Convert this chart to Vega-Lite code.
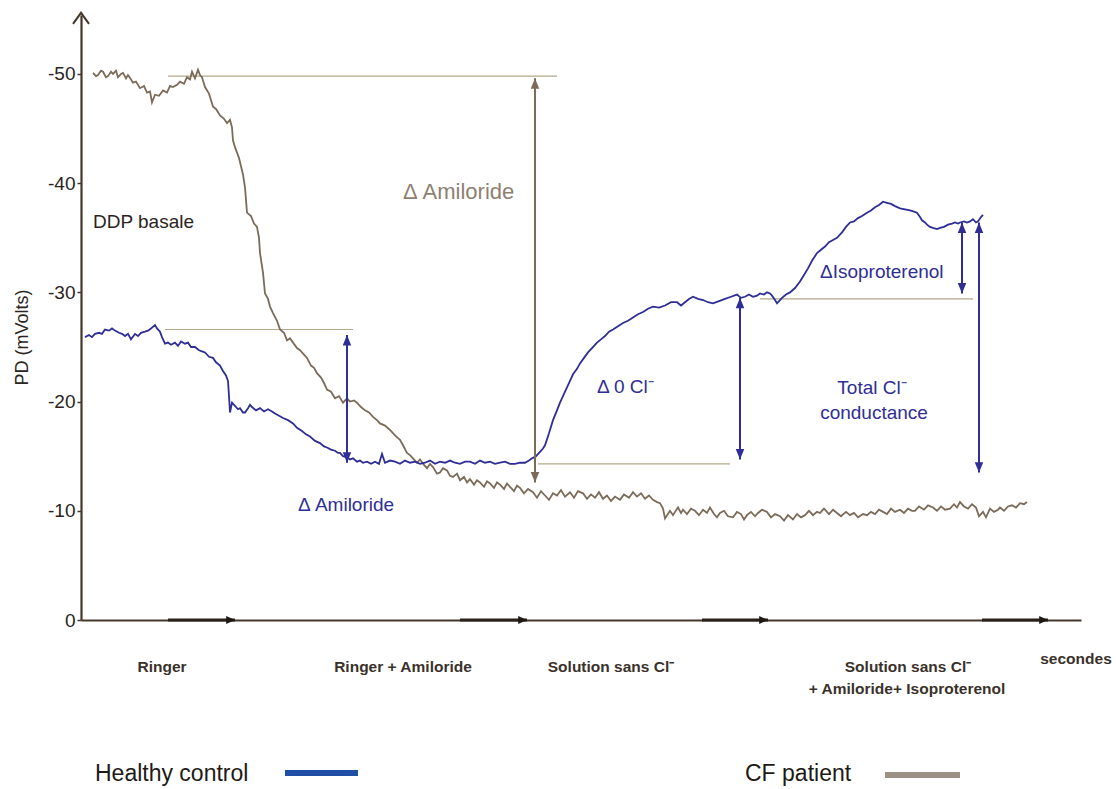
{
  "$schema": "https://vega.github.io/schema/vega-lite/v6.json",
  "width": 1000,
  "height": 605,
  "autosize": {"type": "none"},
  "padding": {"left": 81, "top": 15, "right": 35, "bottom": 169},
  "background": "white",
  "config": {"view": {"stroke": null}, "font": "Liberation Sans", "text": {"font": "Liberation Sans"}},
  "datasets": {
    "traces": [
      {"series":"CF patient","t":12,"v":-50.1},{"series":"CF patient","t":15,"v":-49.8},{"series":"CF patient","t":17,"v":-49.9},{"series":"CF patient","t":20,"v":-50.3},{"series":"CF patient","t":22,"v":-50.2},{"series":"CF patient","t":25,"v":-49.7},{"series":"CF patient","t":27,"v":-49.8},{"series":"CF patient","t":30,"v":-50.2},{"series":"CF patient","t":32,"v":-50.0},{"series":"CF patient","t":35,"v":-50.3},{"series":"CF patient","t":37,"v":-49.7},{"series":"CF patient","t":40,"v":-50.0},{"series":"CF patient","t":42,"v":-50.1},{"series":"CF patient","t":45,"v":-49.6},{"series":"CF patient","t":47,"v":-49.9},{"series":"CF patient","t":50,"v":-49.5},{"series":"CF patient","t":52,"v":-49.2},{"series":"CF patient","t":55,"v":-49.3},{"series":"CF patient","t":59,"v":-48.7},{"series":"CF patient","t":63,"v":-48.9},{"series":"CF patient","t":66,"v":-48.3},{"series":"CF patient","t":69,"v":-48.4},{"series":"CF patient","t":71,"v":-47.4},{"series":"CF patient","t":74,"v":-48.1},{"series":"CF patient","t":78,"v":-48.0},{"series":"CF patient","t":82,"v":-48.5},{"series":"CF patient","t":86,"v":-48.3},{"series":"CF patient","t":89,"v":-48.9},{"series":"CF patient","t":92,"v":-48.8},{"series":"CF patient","t":96,"v":-49.0},{"series":"CF patient","t":99,"v":-49.3},{"series":"CF patient","t":103,"v":-49.1},{"series":"CF patient","t":106,"v":-49.7},{"series":"CF patient","t":109,"v":-49.5},{"series":"CF patient","t":111,"v":-50.2},{"series":"CF patient","t":114,"v":-49.6},{"series":"CF patient","t":117,"v":-50.4},{"series":"CF patient","t":119,"v":-49.9},{"series":"CF patient","t":121,"v":-49.7},{"series":"CF patient","t":124,"v":-48.8},{"series":"CF patient","t":128,"v":-48.2},{"series":"CF patient","t":132,"v":-47.0},{"series":"CF patient","t":135,"v":-46.8},{"series":"CF patient","t":139,"v":-46.2},{"series":"CF patient","t":143,"v":-45.9},{"series":"CF patient","t":146,"v":-45.5},{"series":"CF patient","t":149,"v":-45.8},{"series":"CF patient","t":151,"v":-45.1},{"series":"CF patient","t":152,"v":-43.9},{"series":"CF patient","t":154,"v":-43.3},{"series":"CF patient","t":158,"v":-42.3},{"series":"CF patient","t":162,"v":-40.8},{"series":"CF patient","t":164,"v":-39.6},{"series":"CF patient","t":166,"v":-37.3},{"series":"CF patient","t":170,"v":-37.0},{"series":"CF patient","t":173,"v":-36.3},{"series":"CF patient","t":176,"v":-36.0},{"series":"CF patient","t":178,"v":-35.0},{"series":"CF patient","t":179,"v":-33.6},{"series":"CF patient","t":182,"v":-31.8},{"series":"CF patient","t":184,"v":-29.9},{"series":"CF patient","t":187,"v":-29.4},{"series":"CF patient","t":189,"v":-28.7},{"series":"CF patient","t":192,"v":-28.1},{"series":"CF patient","t":196,"v":-27.4},{"series":"CF patient","t":199,"v":-26.6},{"series":"CF patient","t":203,"v":-26.3},{"series":"CF patient","t":206,"v":-25.6},{"series":"CF patient","t":209,"v":-25.8},{"series":"CF patient","t":212,"v":-25.4},{"series":"CF patient","t":216,"v":-24.9},{"series":"CF patient","t":219,"v":-24.7},{"series":"CF patient","t":223,"v":-24.3},{"series":"CF patient","t":226,"v":-24.0},{"series":"CF patient","t":230,"v":-23.3},{"series":"CF patient","t":233,"v":-23.1},{"series":"CF patient","t":236,"v":-22.6},{"series":"CF patient","t":240,"v":-22.2},{"series":"CF patient","t":243,"v":-21.7},{"series":"CF patient","t":246,"v":-21.1},{"series":"CF patient","t":250,"v":-20.9},{"series":"CF patient","t":254,"v":-20.3},{"series":"CF patient","t":258,"v":-20.5},{"series":"CF patient","t":262,"v":-19.9},{"series":"CF patient","t":266,"v":-20.3},{"series":"CF patient","t":269,"v":-20.0},{"series":"CF patient","t":273,"v":-20.1},{"series":"CF patient","t":276,"v":-19.9},{"series":"CF patient","t":280,"v":-19.5},{"series":"CF patient","t":284,"v":-19.2},{"series":"CF patient","t":288,"v":-19.0},{"series":"CF patient","t":292,"v":-18.6},{"series":"CF patient","t":296,"v":-18.3},{"series":"CF patient","t":299,"v":-18.0},{"series":"CF patient","t":304,"v":-17.8},{"series":"CF patient","t":309,"v":-17.4},{"series":"CF patient","t":314,"v":-16.9},{"series":"CF patient","t":319,"v":-16.5},{"series":"CF patient","t":322,"v":-16.0},{"series":"CF patient","t":326,"v":-15.3},{"series":"CF patient","t":329,"v":-15.1},{"series":"CF patient","t":332,"v":-14.8},{"series":"CF patient","t":336,"v":-14.4},{"series":"CF patient","t":339,"v":-14.7},{"series":"CF patient","t":343,"v":-14.2},{"series":"CF patient","t":346,"v":-13.9},{"series":"CF patient","t":349,"v":-14.3},{"series":"CF patient","t":352,"v":-14.0},{"series":"CF patient","t":356,"v":-13.4},{"series":"CF patient","t":359,"v":-13.5},{"series":"CF patient","t":362,"v":-13.9},{"series":"CF patient","t":366,"v":-13.7},{"series":"CF patient","t":369,"v":-13.2},{"series":"CF patient","t":372,"v":-13.1},{"series":"CF patient","t":376,"v":-13.4},{"series":"CF patient","t":379,"v":-12.8},{"series":"CF patient","t":383,"v":-13.1},{"series":"CF patient","t":386,"v":-12.6},{"series":"CF patient","t":389,"v":-12.9},{"series":"CF patient","t":393,"v":-12.4},{"series":"CF patient","t":396,"v":-12.8},{"series":"CF patient","t":399,"v":-12.6},{"series":"CF patient","t":403,"v":-12.2},{"series":"CF patient","t":406,"v":-12.7},{"series":"CF patient","t":409,"v":-12.5},{"series":"CF patient","t":413,"v":-12.1},{"series":"CF patient","t":416,"v":-12.6},{"series":"CF patient","t":419,"v":-12.4},{"series":"CF patient","t":423,"v":-12.0},{"series":"CF patient","t":426,"v":-12.5},{"series":"CF patient","t":429,"v":-12.2},{"series":"CF patient","t":433,"v":-11.8},{"series":"CF patient","t":436,"v":-12.3},{"series":"CF patient","t":439,"v":-12.1},{"series":"CF patient","t":443,"v":-11.6},{"series":"CF patient","t":447,"v":-12.0},{"series":"CF patient","t":452,"v":-11.7},{"series":"CF patient","t":456,"v":-11.2},{"series":"CF patient","t":460,"v":-11.8},{"series":"CF patient","t":464,"v":-11.4},{"series":"CF patient","t":468,"v":-11.0},{"series":"CF patient","t":472,"v":-11.6},{"series":"CF patient","t":476,"v":-11.4},{"series":"CF patient","t":480,"v":-11.9},{"series":"CF patient","t":484,"v":-11.3},{"series":"CF patient","t":489,"v":-11.7},{"series":"CF patient","t":493,"v":-11.2},{"series":"CF patient","t":497,"v":-11.8},{"series":"CF patient","t":502,"v":-11.6},{"series":"CF patient","t":506,"v":-11.1},{"series":"CF patient","t":510,"v":-11.5},{"series":"CF patient","t":514,"v":-11.2},{"series":"CF patient","t":518,"v":-11.7},{"series":"CF patient","t":522,"v":-11.1},{"series":"CF patient","t":526,"v":-11.4},{"series":"CF patient","t":530,"v":-10.9},{"series":"CF patient","t":534,"v":-11.3},{"series":"CF patient","t":539,"v":-11.0},{"series":"CF patient","t":543,"v":-11.5},{"series":"CF patient","t":548,"v":-11.2},{"series":"CF patient","t":552,"v":-11.7},{"series":"CF patient","t":556,"v":-11.3},{"series":"CF patient","t":560,"v":-11.6},{"series":"CF patient","t":564,"v":-11.1},{"series":"CF patient","t":568,"v":-11.4},{"series":"CF patient","t":572,"v":-11.0},{"series":"CF patient","t":576,"v":-10.8},{"series":"CF patient","t":579,"v":-10.7},{"series":"CF patient","t":582,"v":-10.2},{"series":"CF patient","t":584,"v":-9.3},{"series":"CF patient","t":586,"v":-9.6},{"series":"CF patient","t":589,"v":-10.0},{"series":"CF patient","t":592,"v":-9.6},{"series":"CF patient","t":594,"v":-9.9},{"series":"CF patient","t":597,"v":-10.3},{"series":"CF patient","t":600,"v":-9.8},{"series":"CF patient","t":602,"v":-10.1},{"series":"CF patient","t":606,"v":-9.7},{"series":"CF patient","t":610,"v":-10.2},{"series":"CF patient","t":614,"v":-10.0},{"series":"CF patient","t":618,"v":-9.6},{"series":"CF patient","t":622,"v":-10.1},{"series":"CF patient","t":626,"v":-9.8},{"series":"CF patient","t":629,"v":-10.3},{"series":"CF patient","t":633,"v":-9.7},{"series":"CF patient","t":636,"v":-9.4},{"series":"CF patient","t":639,"v":-9.8},{"series":"CF patient","t":643,"v":-10.0},{"series":"CF patient","t":647,"v":-9.5},{"series":"CF patient","t":652,"v":-9.4},{"series":"CF patient","t":656,"v":-9.9},{"series":"CF patient","t":660,"v":-9.7},{"series":"CF patient","t":663,"v":-9.2},{"series":"CF patient","t":666,"v":-9.6},{"series":"CF patient","t":670,"v":-9.9},{"series":"CF patient","t":674,"v":-9.5},{"series":"CF patient","t":677,"v":-9.8},{"series":"CF patient","t":681,"v":-10.1},{"series":"CF patient","t":686,"v":-9.9},{"series":"CF patient","t":690,"v":-9.4},{"series":"CF patient","t":694,"v":-9.7},{"series":"CF patient","t":699,"v":-9.5},{"series":"CF patient","t":703,"v":-9.1},{"series":"CF patient","t":707,"v":-9.6},{"series":"CF patient","t":712,"v":-9.2},{"series":"CF patient","t":716,"v":-9.7},{"series":"CF patient","t":720,"v":-9.4},{"series":"CF patient","t":724,"v":-9.6},{"series":"CF patient","t":728,"v":-10.0},{"series":"CF patient","t":732,"v":-9.6},{"series":"CF patient","t":736,"v":-9.9},{"series":"CF patient","t":739,"v":-9.8},{"series":"CF patient","t":743,"v":-10.2},{"series":"CF patient","t":748,"v":-9.7},{"series":"CF patient","t":752,"v":-10.1},{"series":"CF patient","t":756,"v":-9.8},{"series":"CF patient","t":760,"v":-9.5},{"series":"CF patient","t":765,"v":-9.9},{"series":"CF patient","t":769,"v":-9.6},{"series":"CF patient","t":773,"v":-9.8},{"series":"CF patient","t":777,"v":-9.4},{"series":"CF patient","t":782,"v":-9.7},{"series":"CF patient","t":786,"v":-9.6},{"series":"CF patient","t":790,"v":-9.9},{"series":"CF patient","t":794,"v":-9.7},{"series":"CF patient","t":798,"v":-10.1},{"series":"CF patient","t":802,"v":-9.9},{"series":"CF patient","t":806,"v":-9.7},{"series":"CF patient","t":810,"v":-10.2},{"series":"CF patient","t":814,"v":-9.9},{"series":"CF patient","t":819,"v":-10.1},{"series":"CF patient","t":823,"v":-9.8},{"series":"CF patient","t":827,"v":-10.2},{"series":"CF patient","t":831,"v":-10.0},{"series":"CF patient","t":834,"v":-10.0},{"series":"CF patient","t":838,"v":-10.4},{"series":"CF patient","t":843,"v":-10.1},{"series":"CF patient","t":847,"v":-10.5},{"series":"CF patient","t":852,"v":-10.3},{"series":"CF patient","t":856,"v":-10.0},{"series":"CF patient","t":860,"v":-10.4},{"series":"CF patient","t":864,"v":-10.1},{"series":"CF patient","t":869,"v":-10.2},{"series":"CF patient","t":873,"v":-10.6},{"series":"CF patient","t":876,"v":-10.3},{"series":"CF patient","t":879,"v":-10.8},{"series":"CF patient","t":883,"v":-10.4},{"series":"CF patient","t":887,"v":-10.2},{"series":"CF patient","t":891,"v":-10.6},{"series":"CF patient","t":895,"v":-10.3},{"series":"CF patient","t":898,"v":-9.5},{"series":"CF patient","t":902,"v":-9.9},{"series":"CF patient","t":905,"v":-9.4},{"series":"CF patient","t":909,"v":-10.2},{"series":"CF patient","t":913,"v":-9.9},{"series":"CF patient","t":917,"v":-10.1},{"series":"CF patient","t":919,"v":-10.3},{"series":"CF patient","t":923,"v":-10.0},{"series":"CF patient","t":927,"v":-10.4},{"series":"CF patient","t":931,"v":-10.5},{"series":"CF patient","t":935,"v":-10.3},{"series":"CF patient","t":939,"v":-10.7},{"series":"CF patient","t":943,"v":-10.6},{"series":"CF patient","t":946,"v":-10.8},
      {"series":"Healthy control","t":4,"v":-25.9},{"series":"Healthy control","t":8,"v":-26.1},{"series":"Healthy control","t":11,"v":-25.9},{"series":"Healthy control","t":14,"v":-26.2},{"series":"Healthy control","t":18,"v":-26.3},{"series":"Healthy control","t":21,"v":-26.2},{"series":"Healthy control","t":24,"v":-26.6},{"series":"Healthy control","t":28,"v":-26.5},{"series":"Healthy control","t":31,"v":-26.7},{"series":"Healthy control","t":34,"v":-26.5},{"series":"Healthy control","t":38,"v":-26.3},{"series":"Healthy control","t":41,"v":-26.2},{"series":"Healthy control","t":44,"v":-26.0},{"series":"Healthy control","t":47,"v":-26.2},{"series":"Healthy control","t":50,"v":-25.7},{"series":"Healthy control","t":54,"v":-26.2},{"series":"Healthy control","t":57,"v":-26.0},{"series":"Healthy control","t":60,"v":-26.3},{"series":"Healthy control","t":64,"v":-26.4},{"series":"Healthy control","t":67,"v":-26.5},{"series":"Healthy control","t":70,"v":-26.7},{"series":"Healthy control","t":74,"v":-27.0},{"series":"Healthy control","t":76,"v":-26.7},{"series":"Healthy control","t":79,"v":-26.4},{"series":"Healthy control","t":81,"v":-25.9},{"series":"Healthy control","t":84,"v":-25.3},{"series":"Healthy control","t":87,"v":-25.4},{"series":"Healthy control","t":90,"v":-25.2},{"series":"Healthy control","t":94,"v":-25.4},{"series":"Healthy control","t":97,"v":-25.1},{"series":"Healthy control","t":100,"v":-25.5},{"series":"Healthy control","t":104,"v":-25.3},{"series":"Healthy control","t":107,"v":-25.4},{"series":"Healthy control","t":110,"v":-25.0},{"series":"Healthy control","t":114,"v":-25.0},{"series":"Healthy control","t":118,"v":-24.7},{"series":"Healthy control","t":121,"v":-24.6},{"series":"Healthy control","t":124,"v":-24.5},{"series":"Healthy control","t":128,"v":-24.1},{"series":"Healthy control","t":132,"v":-24.0},{"series":"Healthy control","t":135,"v":-23.6},{"series":"Healthy control","t":139,"v":-23.3},{"series":"Healthy control","t":142,"v":-22.8},{"series":"Healthy control","t":145,"v":-22.4},{"series":"Healthy control","t":147,"v":-21.9},{"series":"Healthy control","t":148,"v":-20.5},{"series":"Healthy control","t":149,"v":-19.0},{"series":"Healthy control","t":151,"v":-19.9},{"series":"Healthy control","t":154,"v":-19.6},{"series":"Healthy control","t":157,"v":-19.3},{"series":"Healthy control","t":159,"v":-19.4},{"series":"Healthy control","t":162,"v":-19.0},{"series":"Healthy control","t":164,"v":-19.0},{"series":"Healthy control","t":167,"v":-19.4},{"series":"Healthy control","t":169,"v":-19.7},{"series":"Healthy control","t":171,"v":-19.5},{"series":"Healthy control","t":175,"v":-19.2},{"series":"Healthy control","t":179,"v":-19.4},{"series":"Healthy control","t":183,"v":-19.1},{"series":"Healthy control","t":187,"v":-19.3},{"series":"Healthy control","t":191,"v":-19.1},{"series":"Healthy control","t":194,"v":-18.9},{"series":"Healthy control","t":198,"v":-18.7},{"series":"Healthy control","t":202,"v":-18.5},{"series":"Healthy control","t":207,"v":-18.3},{"series":"Healthy control","t":212,"v":-18.0},{"series":"Healthy control","t":216,"v":-17.6},{"series":"Healthy control","t":221,"v":-17.3},{"series":"Healthy control","t":225,"v":-17.0},{"series":"Healthy control","t":229,"v":-16.8},{"series":"Healthy control","t":234,"v":-16.4},{"series":"Healthy control","t":239,"v":-16.2},{"series":"Healthy control","t":243,"v":-15.9},{"series":"Healthy control","t":246,"v":-15.8},{"series":"Healthy control","t":250,"v":-15.6},{"series":"Healthy control","t":254,"v":-15.5},{"series":"Healthy control","t":257,"v":-15.3},{"series":"Healthy control","t":259,"v":-15.3},{"series":"Healthy control","t":262,"v":-15.0},{"series":"Healthy control","t":266,"v":-14.9},{"series":"Healthy control","t":269,"v":-14.7},{"series":"Healthy control","t":272,"v":-14.8},{"series":"Healthy control","t":276,"v":-14.5},{"series":"Healthy control","t":279,"v":-14.6},{"series":"Healthy control","t":282,"v":-14.4},{"series":"Healthy control","t":286,"v":-14.5},{"series":"Healthy control","t":290,"v":-14.3},{"series":"Healthy control","t":294,"v":-14.5},{"series":"Healthy control","t":298,"v":-14.3},{"series":"Healthy control","t":301,"v":-15.2},{"series":"Healthy control","t":304,"v":-14.4},{"series":"Healthy control","t":309,"v":-14.6},{"series":"Healthy control","t":314,"v":-14.5},{"series":"Healthy control","t":319,"v":-14.3},{"series":"Healthy control","t":324,"v":-14.6},{"series":"Healthy control","t":329,"v":-14.4},{"series":"Healthy control","t":334,"v":-14.5},{"series":"Healthy control","t":339,"v":-14.3},{"series":"Healthy control","t":344,"v":-14.4},{"series":"Healthy control","t":349,"v":-14.6},{"series":"Healthy control","t":354,"v":-14.3},{"series":"Healthy control","t":359,"v":-14.5},{"series":"Healthy control","t":364,"v":-14.4},{"series":"Healthy control","t":369,"v":-14.6},{"series":"Healthy control","t":374,"v":-14.4},{"series":"Healthy control","t":379,"v":-14.3},{"series":"Healthy control","t":384,"v":-14.5},{"series":"Healthy control","t":389,"v":-14.5},{"series":"Healthy control","t":394,"v":-14.3},{"series":"Healthy control","t":399,"v":-14.6},{"series":"Healthy control","t":404,"v":-14.4},{"series":"Healthy control","t":409,"v":-14.5},{"series":"Healthy control","t":414,"v":-14.3},{"series":"Healthy control","t":419,"v":-14.4},{"series":"Healthy control","t":424,"v":-14.5},{"series":"Healthy control","t":429,"v":-14.3},{"series":"Healthy control","t":434,"v":-14.3},{"series":"Healthy control","t":439,"v":-14.4},{"series":"Healthy control","t":444,"v":-14.4},{"series":"Healthy control","t":448,"v":-14.6},{"series":"Healthy control","t":451,"v":-14.8},{"series":"Healthy control","t":455,"v":-15.0},{"series":"Healthy control","t":459,"v":-15.4},{"series":"Healthy control","t":462,"v":-15.7},{"series":"Healthy control","t":464,"v":-16.0},{"series":"Healthy control","t":468,"v":-17.1},{"series":"Healthy control","t":472,"v":-18.3},{"series":"Healthy control","t":476,"v":-19.2},{"series":"Healthy control","t":479,"v":-19.9},{"series":"Healthy control","t":483,"v":-20.7},{"series":"Healthy control","t":486,"v":-21.3},{"series":"Healthy control","t":489,"v":-21.9},{"series":"Healthy control","t":492,"v":-22.5},{"series":"Healthy control","t":496,"v":-23.0},{"series":"Healthy control","t":499,"v":-23.5},{"series":"Healthy control","t":503,"v":-24.0},{"series":"Healthy control","t":507,"v":-24.5},{"series":"Healthy control","t":511,"v":-24.9},{"series":"Healthy control","t":516,"v":-25.4},{"series":"Healthy control","t":520,"v":-25.7},{"series":"Healthy control","t":524,"v":-26.0},{"series":"Healthy control","t":528,"v":-26.4},{"series":"Healthy control","t":532,"v":-26.6},{"series":"Healthy control","t":537,"v":-26.9},{"series":"Healthy control","t":542,"v":-27.2},{"series":"Healthy control","t":547,"v":-27.4},{"series":"Healthy control","t":552,"v":-27.7},{"series":"Healthy control","t":557,"v":-28.0},{"series":"Healthy control","t":562,"v":-28.2},{"series":"Healthy control","t":567,"v":-28.5},{"series":"Healthy control","t":572,"v":-28.7},{"series":"Healthy control","t":578,"v":-28.6},{"series":"Healthy control","t":584,"v":-28.8},{"series":"Healthy control","t":590,"v":-29.1},{"series":"Healthy control","t":596,"v":-29.1},{"series":"Healthy control","t":600,"v":-28.8},{"series":"Healthy control","t":604,"v":-29.1},{"series":"Healthy control","t":608,"v":-29.4},{"series":"Healthy control","t":612,"v":-29.6},{"series":"Healthy control","t":617,"v":-29.4},{"series":"Healthy control","t":622,"v":-29.3},{"series":"Healthy control","t":627,"v":-29.1},{"series":"Healthy control","t":632,"v":-29.0},{"series":"Healthy control","t":638,"v":-29.2},{"series":"Healthy control","t":644,"v":-29.4},{"series":"Healthy control","t":650,"v":-29.6},{"series":"Healthy control","t":656,"v":-29.8},{"series":"Healthy control","t":660,"v":-29.5},{"series":"Healthy control","t":664,"v":-29.6},{"series":"Healthy control","t":668,"v":-29.8},{"series":"Healthy control","t":672,"v":-29.6},{"series":"Healthy control","t":676,"v":-29.7},{"series":"Healthy control","t":679,"v":-29.9},{"series":"Healthy control","t":683,"v":-29.8},{"series":"Healthy control","t":686,"v":-30.0},{"series":"Healthy control","t":689,"v":-29.9},{"series":"Healthy control","t":691,"v":-29.7},{"series":"Healthy control","t":694,"v":-29.3},{"series":"Healthy control","t":696,"v":-29.0},{"series":"Healthy control","t":699,"v":-29.3},{"series":"Healthy control","t":701,"v":-29.5},{"series":"Healthy control","t":705,"v":-29.8},{"series":"Healthy control","t":709,"v":-30.0},{"series":"Healthy control","t":714,"v":-30.4},{"series":"Healthy control","t":719,"v":-31.0},{"series":"Healthy control","t":723,"v":-31.6},{"series":"Healthy control","t":727,"v":-32.2},{"series":"Healthy control","t":731,"v":-32.9},{"series":"Healthy control","t":736,"v":-33.6},{"series":"Healthy control","t":740,"v":-33.9},{"series":"Healthy control","t":744,"v":-34.2},{"series":"Healthy control","t":748,"v":-34.6},{"series":"Healthy control","t":752,"v":-34.8},{"series":"Healthy control","t":756,"v":-35.0},{"series":"Healthy control","t":761,"v":-35.5},{"series":"Healthy control","t":765,"v":-36.0},{"series":"Healthy control","t":769,"v":-36.4},{"series":"Healthy control","t":773,"v":-36.5},{"series":"Healthy control","t":777,"v":-36.8},{"series":"Healthy control","t":781,"v":-37.0},{"series":"Healthy control","t":786,"v":-37.3},{"series":"Healthy control","t":790,"v":-37.5},{"series":"Healthy control","t":794,"v":-37.8},{"series":"Healthy control","t":798,"v":-38.0},{"series":"Healthy control","t":802,"v":-38.3},{"series":"Healthy control","t":806,"v":-38.2},{"series":"Healthy control","t":810,"v":-38.1},{"series":"Healthy control","t":814,"v":-37.9},{"series":"Healthy control","t":819,"v":-37.7},{"series":"Healthy control","t":824,"v":-37.6},{"series":"Healthy control","t":829,"v":-37.5},{"series":"Healthy control","t":833,"v":-37.4},{"series":"Healthy control","t":836,"v":-37.3},{"series":"Healthy control","t":839,"v":-36.9},{"series":"Healthy control","t":841,"v":-36.6},{"series":"Healthy control","t":844,"v":-36.4},{"series":"Healthy control","t":846,"v":-36.2},{"series":"Healthy control","t":849,"v":-36.0},{"series":"Healthy control","t":852,"v":-35.9},{"series":"Healthy control","t":856,"v":-35.8},{"series":"Healthy control","t":859,"v":-35.9},{"series":"Healthy control","t":863,"v":-36.0},{"series":"Healthy control","t":867,"v":-36.2},{"series":"Healthy control","t":871,"v":-36.3},{"series":"Healthy control","t":874,"v":-36.4},{"series":"Healthy control","t":877,"v":-36.3},{"series":"Healthy control","t":879,"v":-36.4},{"series":"Healthy control","t":883,"v":-36.5},{"series":"Healthy control","t":886,"v":-36.4},{"series":"Healthy control","t":889,"v":-36.5},{"series":"Healthy control","t":892,"v":-36.7},{"series":"Healthy control","t":895,"v":-36.4},{"series":"Healthy control","t":897,"v":-36.5},{"series":"Healthy control","t":900,"v":-36.9},{"series":"Healthy control","t":902,"v":-37.1}
    ],
    "refs": [
      {"t": 87, "t2": 476, "v": -49.8},
      {"t": 84, "t2": 272, "v": -26.6},
      {"t": 457, "t2": 649, "v": -14.3},
      {"t": 679, "t2": 892, "v": -29.4}
    ],
    "arrows": [
      {"series": "CF patient", "t": 454, "v": -49.6, "v2": -12.6},
      {"series": "Healthy control", "t": 266, "v": -26.1, "v2": -14.4},
      {"series": "Healthy control", "t": 659, "v": -29.5, "v2": -14.7},
      {"series": "Healthy control", "t": 881, "v": -36.4, "v2": -29.9},
      {"series": "Healthy control", "t": 898, "v": -36.4, "v2": -13.5}
    ],
    "phases": [
      {"t": 87, "t2": 154, "v": 0},
      {"t": 379, "t2": 446, "v": 0},
      {"t": 621, "t2": 687, "v": 0},
      {"t": 901, "t2": 967, "v": 0}
    ],
    "yarrow": [{"t": 0, "v": -55.6}],
    "notes": [
      {"role": "big", "series": "CF patient", "t": 322, "v": -39.2, "label": "Δ Amiloride"},
      {"role": "left", "series": "Healthy control", "t": 217, "v": -10.5, "label": "Δ Amiloride"},
      {"role": "left", "series": "Healthy control", "t": 516, "v": -21.3, "label": "Δ 0 Cl⁻"},
      {"role": "left", "series": "Healthy control", "t": 739, "v": -31.9, "label": "ΔIsoproterenol"},
      {"role": "center", "series": "Healthy control", "t": 791, "v": -21.2, "label": "Total Cl⁻"},
      {"role": "center", "series": "Healthy control", "t": 793, "v": -19.0, "label": "conductance"}
    ],
    "basal": [{"t": 12, "v": -36.4, "label": "DDP basale"}],
    "conditions": [
      {"t": 81, "v": 4.3, "label": "Ringer"},
      {"t": 322, "v": 4.3, "label": "Ringer + Amiloride"},
      {"t": 530, "v": 4.3, "label": "Solution sans  Cl⁻"},
      {"t": 827, "v": 4.3, "label": "Solution sans  Cl⁻"},
      {"t": 826, "v": 6.3, "label": "+ Amiloride+ Isoproterenol"},
      {"t": 995, "v": 3.6, "label": "secondes"}
    ],
    "legendText": [
      {"t": 14, "v": 14.1, "label": "Healthy control"},
      {"t": 664, "v": 14.1, "label": "CF patient"}
    ],
    "legendSwatch": [
      {"series": "Healthy control", "t": 204, "t2": 277, "v": 14.0},
      {"series": "CF patient", "t": 804, "t2": 879, "v": 14.2}
    ]
  },
  "layer": [
    {
      "data": {"name": "refs"},
      "mark": {"type": "rule", "color": "#b3a88d", "strokeWidth": 1.2},
      "encoding": {
        "x": {"field": "t", "type": "quantitative", "scale": {"domain": [0, 1000], "nice": false, "zero": false},
              "axis": {"orient": "bottom", "domain": true, "domainColor": "#45382b", "domainWidth": 2.2, "ticks": false, "labels": false, "grid": false, "title": null}},
        "x2": {"field": "t2"},
        "y": {"field": "v", "type": "quantitative", "scale": {"domain": [-55.4, 0], "reverse": true, "nice": false, "zero": false},
              "axis": {"values": [-50, -40, -30, -20, -10, 0], "labelExpr": "datum.value == 0 ? '0' : '-' + abs(datum.value)", "grid": false,
                       "domainColor": "#45382b", "domainWidth": 2.2, "tickColor": "#45382b", "tickSize": 4, "tickWidth": 1.5,
                       "labelFont": "Liberation Sans", "labelFontSize": 19, "labelColor": "#2b241d", "labelPadding": 2,
                       "title": "PD (mVolts)", "titleFont": "Liberation Sans", "titleFontSize": 18, "titleFontWeight": "normal", "titleColor": "#2b241d",
                       "titleAngle": -90, "titleX": -59, "titleY": 322, "titleAlign": "center", "titleBaseline": "middle"}}
      }
    },
    {
      "data": {"name": "traces"},
      "mark": {"type": "line", "strokeWidth": 1.8, "interpolate": "linear"},
      "encoding": {
        "x": {"field": "t", "type": "quantitative"},
        "y": {"field": "v", "type": "quantitative"},
        "color": {"field": "series", "type": "nominal", "scale": {"domain": ["Healthy control", "CF patient"], "range": ["#2e2e96", "#7b6b58"]}, "legend": null},
        "order": {"field": "t", "type": "quantitative"}
      }
    },
    {
      "data": {"name": "arrows"},
      "mark": {"type": "rule", "strokeWidth": 2},
      "encoding": {
        "x": {"field": "t", "type": "quantitative"},
        "y": {"field": "v", "type": "quantitative"},
        "y2": {"field": "v2"},
        "color": {"field": "series", "type": "nominal"}
      }
    },
    {
      "data": {"name": "arrows"},
      "mark": {"type": "point", "shape": "M0,0L-0.9,2.2L0.9,2.2Z", "filled": true, "size": 90, "opacity": 1},
      "encoding": {
        "x": {"field": "t", "type": "quantitative"},
        "y": {"field": "v", "type": "quantitative"},
        "color": {"field": "series", "type": "nominal"}
      }
    },
    {
      "data": {"name": "arrows"},
      "mark": {"type": "point", "shape": "M0,0L-0.9,-2.2L0.9,-2.2Z", "filled": true, "size": 90, "opacity": 1},
      "encoding": {
        "x": {"field": "t", "type": "quantitative"},
        "y": {"field": "v2", "type": "quantitative"},
        "color": {"field": "series", "type": "nominal"}
      }
    },
    {
      "data": {"name": "phases"},
      "mark": {"type": "rule", "color": "#2a2118", "strokeWidth": 3.2},
      "encoding": {
        "x": {"field": "t", "type": "quantitative"},
        "x2": {"field": "t2"},
        "y": {"field": "v", "type": "quantitative"}
      }
    },
    {
      "data": {"name": "phases"},
      "mark": {"type": "point", "shape": "M0,0L-2.2,-1L-2.2,1Z", "filled": true, "size": 64, "opacity": 1, "color": "#1e1812"},
      "encoding": {
        "x": {"field": "t2", "type": "quantitative"},
        "y": {"field": "v", "type": "quantitative"}
      }
    },
    {
      "data": {"name": "yarrow"},
      "mark": {"type": "point", "shape": "M-1.6,2.2L0,0L1.6,2.2", "filled": false, "size": 100, "opacity": 1, "color": "#45382b", "strokeWidth": 2},
      "encoding": {
        "x": {"field": "t", "type": "quantitative"},
        "y": {"field": "v", "type": "quantitative"}
      }
    },
    {
      "data": {"name": "notes"},
      "transform": [{"filter": "datum.role == 'big'"}],
      "mark": {"type": "text", "align": "left", "baseline": "middle", "fontSize": 22, "font": "Liberation Sans", "opacity": 0.85},
      "encoding": {
        "x": {"field": "t", "type": "quantitative"},
        "y": {"field": "v", "type": "quantitative"},
        "text": {"field": "label"},
        "color": {"field": "series", "type": "nominal"}
      }
    },
    {
      "data": {"name": "notes"},
      "transform": [{"filter": "datum.role == 'left'"}],
      "mark": {"type": "text", "align": "left", "baseline": "middle", "fontSize": 19, "font": "Liberation Sans"},
      "encoding": {
        "x": {"field": "t", "type": "quantitative"},
        "y": {"field": "v", "type": "quantitative"},
        "text": {"field": "label"},
        "color": {"field": "series", "type": "nominal"}
      }
    },
    {
      "data": {"name": "notes"},
      "transform": [{"filter": "datum.role == 'center'"}],
      "mark": {"type": "text", "align": "center", "baseline": "middle", "fontSize": 19, "font": "Liberation Sans"},
      "encoding": {
        "x": {"field": "t", "type": "quantitative"},
        "y": {"field": "v", "type": "quantitative"},
        "text": {"field": "label"},
        "color": {"field": "series", "type": "nominal"}
      }
    },
    {
      "data": {"name": "basal"},
      "mark": {"type": "text", "align": "left", "baseline": "middle", "fontSize": 19, "font": "Liberation Sans", "color": "#2b241d"},
      "encoding": {
        "x": {"field": "t", "type": "quantitative"},
        "y": {"field": "v", "type": "quantitative"},
        "text": {"field": "label"}
      }
    },
    {
      "data": {"name": "conditions"},
      "mark": {"type": "text", "align": "center", "baseline": "middle", "fontSize": 15.5, "fontWeight": "bold", "font": "Liberation Sans", "color": "#3a322a"},
      "encoding": {
        "x": {"field": "t", "type": "quantitative"},
        "y": {"field": "v", "type": "quantitative"},
        "text": {"field": "label"}
      }
    },
    {
      "data": {"name": "legendText"},
      "mark": {"type": "text", "align": "left", "baseline": "middle", "fontSize": 23, "font": "Liberation Sans", "color": "#1e1a16"},
      "encoding": {
        "x": {"field": "t", "type": "quantitative"},
        "y": {"field": "v", "type": "quantitative"},
        "text": {"field": "label"}
      }
    },
    {
      "data": {"name": "legendSwatch"},
      "transform": [{"filter": "datum.series == 'Healthy control'"}],
      "mark": {"type": "rule", "color": "#1f4ea6", "strokeWidth": 6},
      "encoding": {
        "x": {"field": "t", "type": "quantitative"},
        "x2": {"field": "t2"},
        "y": {"field": "v", "type": "quantitative"}
      }
    },
    {
      "data": {"name": "legendSwatch"},
      "transform": [{"filter": "datum.series == 'CF patient'"}],
      "mark": {"type": "rule", "color": "#9b9283", "strokeWidth": 6},
      "encoding": {
        "x": {"field": "t", "type": "quantitative"},
        "x2": {"field": "t2"},
        "y": {"field": "v", "type": "quantitative"}
      }
    }
  ]
}
